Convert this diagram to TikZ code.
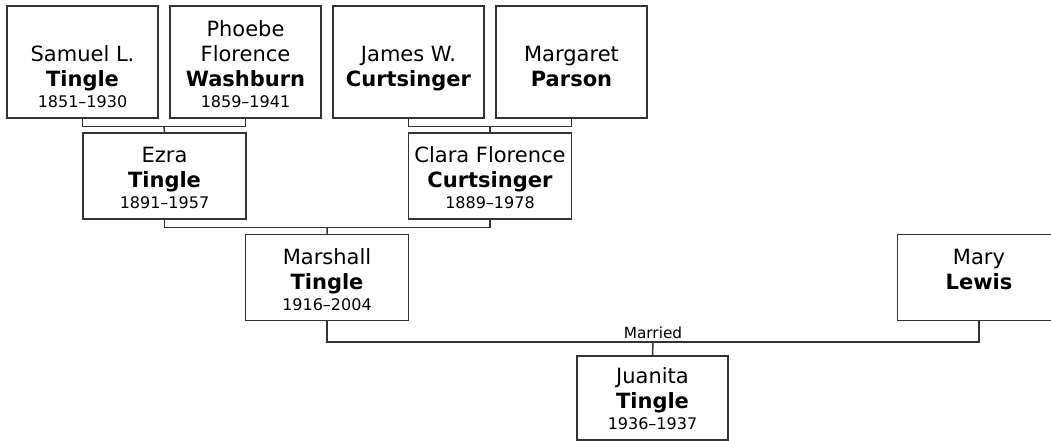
\documentclass[tikz,border=0pt]{standalone}
\usepackage{fontspec}
\setmainfont{DejaVu Sans}
\usepackage{xcolor}
\usetikzlibrary{positioning,calc}
\definecolor{FTLine}{HTML}{333333}
\newcommand\yrs[1]{{\fontsize{12}{14}\selectfont #1}}

\begin{document}
\begin{tikzpicture}[x=0.75pt,y=-0.75pt,
  person/.style={draw=FTLine,line width=1.1pt,inner sep=0pt,minimum width=113pt,minimum height=84pt,
    label={[anchor=south,yshift=7.75pt,inner sep=0pt,align=center,font=\fontsize{15.75}{18.75}\selectfont]south:#1}},
  midperson/.style={person={#1},minimum width=122pt,minimum height=64.5pt},
  link/.style={draw=FTLine,line width=1.1pt}]
  \useasboundingbox (0,0) rectangle (1051,441);
  \node[person={Samuel L.\\\textbf{Tingle}\\[-3pt]\yrs{1851--1930}}] (samuel) at (82.5,62) {};
  \node[person={Phoebe\\Florence\\\textbf{Washburn}\\[-3pt]\yrs{1859--1941}}] (phoebe) at (245.5,62) {};
  \node[person={James W.\\\textbf{Curtsinger}\\[-3pt]\yrs{\phantom{0}}}] (james) at (408.5,62) {};
  \node[person={Margaret\\\textbf{Parson}\\[-3pt]\yrs{\phantom{0}}}] (margaret) at (571.5,62) {};
  \node[midperson={Ezra\\\textbf{Tingle}\\[-3pt]\yrs{1891--1957}}] (ezra) at (164.5,176) {};
  \node[midperson={Clara Florence\\\textbf{Curtsinger}\\[-3pt]\yrs{1889--1978}}] (clara) at (490,176) {};
  \node[midperson={Marshall\\\textbf{Tingle}\\[-3pt]\yrs{1916--2004}}] (marshall) at (327,277.5) {};
  \node[midperson={Mary\\\textbf{Lewis}\\[-3pt]\yrs{\phantom{0}}}] (mary) at (979,277.5) {};
  \node[person={Juanita\\\textbf{Tingle}\\[-3pt]\yrs{1936--1937}},minimum height=63pt] (juanita) at (652.5,398) {};
  \foreach \pa/\pb/\kid in {samuel/phoebe/ezra,james/margaret/clara,ezra/clara/marshall} {
    \coordinate (\kid-top) at ($(\pa.south)!0.5!(\pb.south)+(0,8)$);
    \draw[link] (\pa.south) |- (\kid-top) -| (\pb.south);
    \draw[link] (\kid-top) -- (\kid.north);
  }
  \coordinate (wed) at ($(marshall.south)!0.5!(mary.south)+(0,21)$);
  \draw[link] (marshall.south) |- (wed) -| (mary.south);
  \draw[link] (wed) -- (juanita.north);
  \node[above=0pt of wed,inner sep=2.5pt,font=\fontsize{11.5}{13}\selectfont] (married) {Married};
\end{tikzpicture}
\end{document}
